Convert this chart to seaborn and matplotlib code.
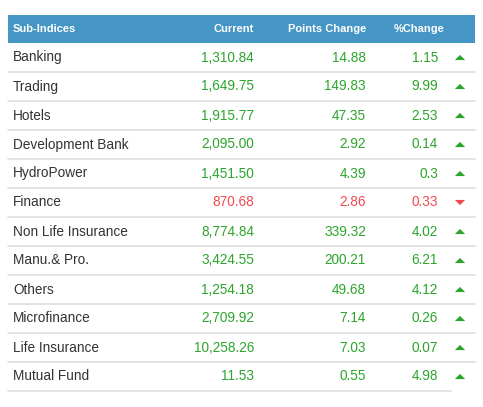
import numpy as np
import pandas as pd
import matplotlib.pyplot as plt
import seaborn as sns

# table data
names = ["Banking", "Trading", "Hotels", "Development Bank", "HydroPower", "Finance",
         "Non Life Insurance", "Manu.& Pro.", "Others", "Microfinance",
         "Life Insurance", "Mutual Fund"]
current = ["1,310.84", "1,649.75", "1,915.77", "2,095.00", "1,451.50", "870.68",
           "8,774.84", "3,424.55", "1,254.18", "2,709.92", "10,258.26", "11.53"]
points = ["14.88", "149.83", "47.35", "2.92", "4.39", "2.86",
          "339.32", "200.21", "49.68", "7.14", "7.03", "0.55"]
pct = ["1.15", "9.99", "2.53", "0.14", "0.3", "0.33",
       "4.02", "6.21", "4.12", "0.26", "0.07", "4.98"]
direction = ["up", "up", "up", "up", "up", "down",
             "up", "up", "up", "up", "up", "up"]
headers = ["Sub-Indices", "Current", "Points Change", "%Change"]

GREEN = "#2ca52c"
RED = "#f2484f"
BLUE = "#4596c4"

sns.set_theme(style="white")
plt.rcParams['font.family'] = ['Liberation Sans', 'DejaVu Sans']

fig = plt.figure(figsize=(4.83, 4.07), dpi=100)
ax = fig.add_axes([0, 0, 1, 1])

top, head_h, row_h = 15, 28, 29
left, right = 8, 475

# header band
ax.fill_between([left, right], top, top + head_h, color=BLUE, lw=0)
hy = top + head_h / 2
ax.text(13, hy, headers[0], color="white", fontsize=8, fontweight="bold", va="center", ha="left")
ax.text(254, hy, headers[1], color="white", fontsize=8, fontweight="bold", va="center", ha="right")
ax.text(366, hy, headers[2], color="white", fontsize=8, fontweight="bold", va="center", ha="right")
ax.text(445, hy, headers[3], color="white", fontsize=8, fontweight="bold", va="center", ha="right")

df = pd.DataFrame({"name": names, "current": current, "points": points,
                   "pct": pct, "dir": direction})
df["y"] = top + head_h + row_h * np.arange(len(df)) + row_h / 2

for i, r in df.iterrows():
    col = RED if r["dir"] == "down" else GREEN
    ax.text(13, r["y"], r["name"], color="#333333", fontsize=9.8, va="center", ha="left")
    ax.text(254, r["y"], r["current"], color=col, fontsize=9.8, va="center", ha="right")
    ax.text(366, r["y"], r["points"], color=col, fontsize=9.8, va="center", ha="right")
    ax.text(438, r["y"], r["pct"], color=col, fontsize=9.8, va="center", ha="right")
    line_end = 451 if i == len(df) - 1 else right
    ax.plot([left, line_end], [r["y"] + row_h / 2] * 2, color="#dddddd", lw=1.2)

# flat triangles for the direction arrows
up_tri = [(-1, -0.5), (1, -0.5), (0, 0.5), (-1, -0.5)]
down_tri = [(-1, 0.5), (1, 0.5), (0, -0.5), (-1, 0.5)]
df["ax_x"] = 460
sns.scatterplot(data=df[df["dir"] == "up"], x="ax_x", y="y", marker=up_tri, s=55,
                color=GREEN, edgecolor="none", ax=ax, legend=False)
sns.scatterplot(data=df[df["dir"] == "down"], x="ax_x", y="y", marker=down_tri, s=55,
                color=RED, edgecolor="none", ax=ax, legend=False)
ax.set_xlim(0, 483)
ax.set_ylim(407, 0)
ax.axis("off")

fig.savefig("out.png", dpi=100, facecolor="white")
